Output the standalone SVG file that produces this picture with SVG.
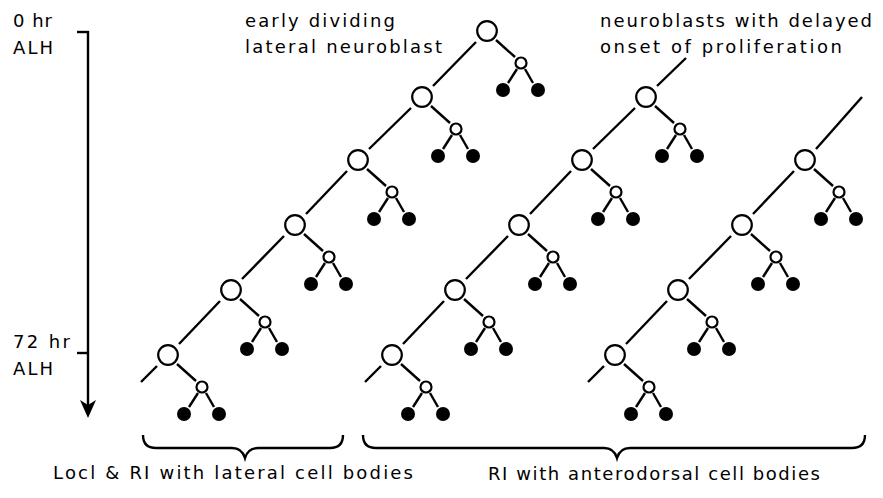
<svg xmlns="http://www.w3.org/2000/svg" xmlns:xlink="http://www.w3.org/1999/xlink" width="883" height="498" viewBox="0 0 883 498">
<style>
  .t { font-family: "DejaVu Sans", "Liberation Sans", sans-serif; font-size: 18px; fill: #000; }
  .ln { stroke: #000; stroke-width: 2.4; fill: none; stroke-linecap: butt; }
  .big { fill: #fff; stroke: #000; stroke-width: 2.2; }
  .small { fill: #fff; stroke: #000; stroke-width: 2.2; }
  .filled { fill: #000; stroke: none; }
</style>
<defs>
  <g id="unit">
    <line class="ln" x1="9" y1="9" x2="28" y2="26"/>
    <line class="ln" x1="30" y1="38" x2="21" y2="52"/>
    <line class="ln" x1="38" y1="38" x2="46" y2="52"/>
    <circle class="big" cx="0" cy="0" r="9.8"/>
    <circle class="small" cx="34" cy="32" r="5.5"/>
    <circle class="filled" cx="16" cy="59" r="7"/>
    <circle class="filled" cx="51" cy="59" r="7"/>
  </g>
</defs>
<rect width="883" height="498" fill="#fff"/>

<g id="time-axis">
  <line class="ln" x1="77" y1="32" x2="89" y2="32"/>
  <line class="ln" x1="77" y1="353" x2="88" y2="353"/>
  <line class="ln" x1="88" y1="31" x2="88" y2="405"/>
  <path d="M80,400 L88,405 L96,400 L88,418 Z" fill="#000"/>
  <text class="t" x="13" y="27" textLength="39" lengthAdjust="spacing">0 hr</text>
  <text class="t" x="13" y="54" textLength="40" lengthAdjust="spacing">ALH</text>
  <text class="t" x="13" y="348" textLength="57" lengthAdjust="spacing">72 hr</text>
  <text class="t" x="13" y="375" textLength="40" lengthAdjust="spacing">ALH</text>
</g>

<g id="labels">
  <text class="t" x="245" y="27" textLength="150" lengthAdjust="spacing">early dividing</text>
  <text class="t" x="245" y="53" textLength="197" lengthAdjust="spacing">lateral neuroblast</text>
  <text class="t" x="600" y="27" textLength="272" lengthAdjust="spacing">neuroblasts with delayed</text>
  <text class="t" x="600" y="53" textLength="242" lengthAdjust="spacing">onset of proliferation</text>
</g>

<g id="connectors">
  <!-- lineage 1 -->
  <line class="ln" x1="476" y1="42" x2="433" y2="86"/>
  <line class="ln" x1="411" y1="108" x2="369" y2="149"/>
  <line class="ln" x1="347" y1="171" x2="306" y2="214"/>
  <line class="ln" x1="284" y1="236" x2="242" y2="279"/>
  <line class="ln" x1="220" y1="301" x2="179" y2="344"/>
  <line class="ln" x1="157" y1="366" x2="141" y2="382"/>
  <!-- lineage 2 -->
  <line class="ln" x1="686" y1="58" x2="657" y2="86"/>
  <line class="ln" x1="635" y1="108" x2="593" y2="149"/>
  <line class="ln" x1="571" y1="171" x2="530" y2="214"/>
  <line class="ln" x1="508" y1="236" x2="466" y2="279"/>
  <line class="ln" x1="444" y1="301" x2="403" y2="344"/>
  <line class="ln" x1="381" y1="366" x2="365" y2="382"/>
  <!-- lineage 3 -->
  <line class="ln" x1="862" y1="97" x2="816" y2="149"/>
  <line class="ln" x1="794" y1="171" x2="753" y2="214"/>
  <line class="ln" x1="731" y1="236" x2="689" y2="279"/>
  <line class="ln" x1="667" y1="301" x2="626" y2="344"/>
  <line class="ln" x1="604" y1="366" x2="588" y2="382"/>
</g>

<g id="lineage1">
  <g id="n1-1"><use xlink:href="#unit" href="#unit" x="487" y="31"/></g>
  <g id="n1-2"><use xlink:href="#unit" href="#unit" x="422" y="97"/></g>
  <g id="n1-3"><use xlink:href="#unit" href="#unit" x="358" y="160"/></g>
  <g id="n1-4"><use xlink:href="#unit" href="#unit" x="295" y="225"/></g>
  <g id="n1-5"><use xlink:href="#unit" href="#unit" x="231" y="290"/></g>
  <g id="n1-6"><use xlink:href="#unit" href="#unit" x="168" y="355"/></g>
</g>
<g id="lineage2">
  <g id="n2-1"><use xlink:href="#unit" href="#unit" x="646" y="97"/></g>
  <g id="n2-2"><use xlink:href="#unit" href="#unit" x="582" y="160"/></g>
  <g id="n2-3"><use xlink:href="#unit" href="#unit" x="519" y="225"/></g>
  <g id="n2-4"><use xlink:href="#unit" href="#unit" x="455" y="290"/></g>
  <g id="n2-5"><use xlink:href="#unit" href="#unit" x="392" y="355"/></g>
</g>
<g id="lineage3">
  <g id="n3-1"><use xlink:href="#unit" href="#unit" x="805" y="160"/></g>
  <g id="n3-2"><use xlink:href="#unit" href="#unit" x="742" y="225"/></g>
  <g id="n3-3"><use xlink:href="#unit" href="#unit" x="678" y="290"/></g>
  <g id="n3-4"><use xlink:href="#unit" href="#unit" x="615" y="355"/></g>
</g>

<g id="braces">
  <path class="ln" d="M143,435 Q143,448 156,448 L232,448 Q242,448 245,458 Q248,448 258,448 L330,448 Q343,448 343,435"/>
  <path class="ln" d="M363,435 Q363,448 376,448 L604,448 Q614,448 617,458 Q620,448 630,448 L852,448 Q865,448 865,435"/>
  <text class="t" x="53" y="479" textLength="360" lengthAdjust="spacing">Locl &amp; RI with lateral cell bodies</text>
  <text class="t" x="488" y="480" textLength="332" lengthAdjust="spacing">RI with anterodorsal cell bodies</text>
</g>
</svg>
